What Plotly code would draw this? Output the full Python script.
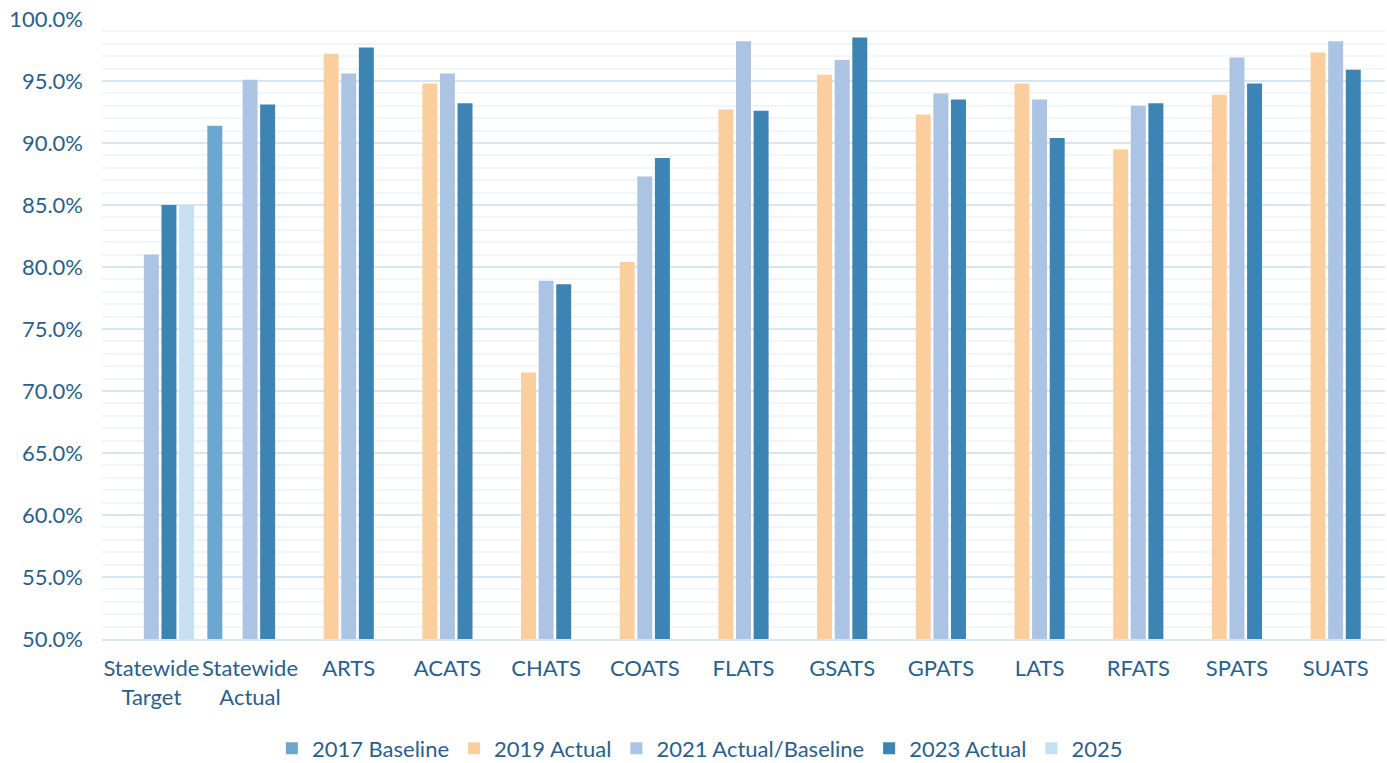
import plotly.graph_objects as go

categories = ["Statewide<br>Target", "Statewide<br>Actual", "ARTS", "ACATS", "CHATS", "COATS",
              "FLATS", "GSATS", "GPATS", "LATS", "RFATS", "SPATS", "SUATS"]

baseline_2017 = [None, 91.4, None, None, None, None, None, None, None, None, None, None, None]
actual_2019 = [None, None, 97.2, 94.8, 71.5, 80.4, 92.7, 95.5, 92.3, 94.8, 89.5, 93.9, 97.3]
actual_2021 = [81.0, 95.1, 95.6, 95.6, 78.9, 87.3, 98.2, 96.7, 94.0, 93.5, 93.0, 96.9, 98.2]
actual_2023 = [85.0, 93.1, 97.7, 93.2, 78.6, 88.8, 92.6, 98.5, 93.5, 90.4, 93.2, 94.8, 95.9]
target_2025 = [85.0, None, None, None, None, None, None, None, None, None, None, None, None]

series = [
    ("2017 Baseline", baseline_2017, "#6ba7d1"),
    ("2019 Actual", actual_2019, "#fbcf9d"),
    ("2021 Actual/Baseline", actual_2021, "#abc4e4"),
    ("2023 Actual", actual_2023, "#3c84b3"),
    ("2025", target_2025, "#c6dff2"),
]

text_color = "#2a5f8c"
font_family = "Lato, 'Open Sans', sans-serif"

fig = go.Figure()
for name, vals, color in series:
    fig.add_trace(go.Bar(name=name, x=categories, y=vals, marker=dict(color=color, line=dict(width=0))))

fig.update_layout(
    barmode="group",
    bargap=0.108,
    bargroupgap=0.15,
    width=1387,
    height=763,
    margin=dict(l=102, r=2, t=19, b=124, autoexpand=False),
    paper_bgcolor="white",
    plot_bgcolor="white",
    font=dict(family=font_family, size=22, color=text_color),
    legend=dict(orientation="h", x=0.466, xanchor="center", y=-0.1765, yanchor="middle",
                font=dict(size=22, color=text_color), itemwidth=30),
    showlegend=True,
)
fig.update_yaxes(
    range=[50, 100],
    dtick=5,
    tickformat=".1f",
    ticksuffix="%",
    showgrid=True,
    gridcolor="#d6e7f3",
    gridwidth=2,
    minor=dict(dtick=1, showgrid=True, gridcolor="#eef5fb", gridwidth=2),
    zeroline=False,
    showline=False,
    ticks="",
    ticklabelstandoff=18,
    ticklabeloverflow="allow",
    automargin=False,
    tickfont=dict(size=22, color=text_color),
)
fig.update_xaxes(
    showline=True,
    linecolor="#d6e7f3",
    linewidth=2,
    ticks="",
    ticklabelstandoff=9,
    automargin=False,
    tickfont=dict(size=22, color=text_color),
)

fig.write_html(
    "out.html",
    config={"displayModeBar": False},
    post_script="document.body.style.margin='0';document.body.style.overflow='hidden';",
)
